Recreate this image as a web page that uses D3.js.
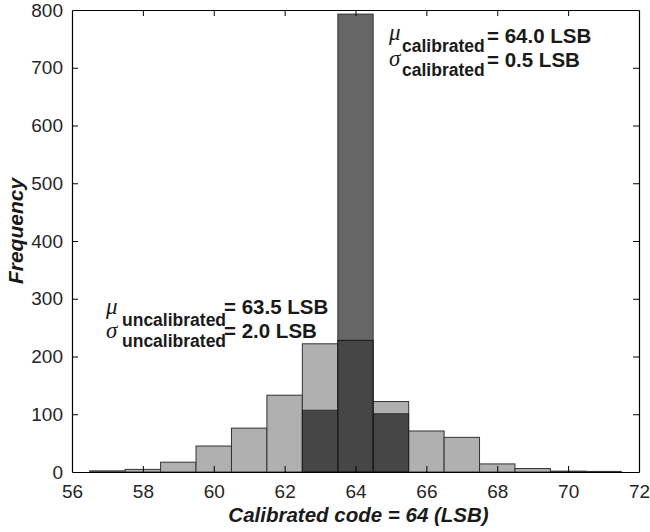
<!DOCTYPE html>
<html>
<head>
<meta charset="utf-8">
<script src="https://cdn.jsdelivr.net/npm/d3@7"></script>
<style>
  html, body { margin: 0; padding: 0; background: #fff; }
  svg { display: block; }
  text { font-family: "Liberation Sans", Arial, Helvetica, sans-serif; }
</style>
</head>
<body>
<svg id="chart" width="650" height="532"></svg>
<script>
// ---- data ----
const uncalBins   = [57, 58, 59, 60, 61, 62, 63, 64, 65, 66, 67, 68, 69, 70, 71];
const uncalCounts = [2, 4.5, 17, 45, 76, 133, 222, 228, 122, 71, 60, 14, 6, 1.5, 1];
const calBins     = [63, 64, 65];
const calCounts   = [107, 793, 101];
const xTicks = [56, 58, 60, 62, 64, 66, 68, 70, 72];
const yTicks = [0, 100, 200, 300, 400, 500, 600, 700, 800];
const xLabel = "Calibrated code = 64 (LSB)";
const yLabel = "Frequency";

const svg = d3.select("#chart");
const L = 72, R = 639, T = 10, B = 472;
const x = d3.scaleLinear().domain([56, 72]).range([L, R]);
const y = d3.scaleLinear().domain([0, 800]).range([B, T]);
const binW = 1;

// uncalibrated bars
svg.append("g").selectAll("rect").data(uncalBins.map((b, i) => ({b, v: uncalCounts[i]})))
  .join("rect")
  .attr("x", d => x(d.b - binW / 2))
  .attr("width", d => x(d.b + binW / 2) - x(d.b - binW / 2))
  .attr("y", d => y(d.v))
  .attr("height", d => y(0) - y(d.v))
  .attr("fill", "#b0b0b0")
  .attr("stroke", "#333")
  .attr("stroke-width", 1);

// calibrated bars (semi-transparent dark)
svg.append("g").selectAll("rect").data(calBins.map((b, i) => ({b, v: calCounts[i]})))
  .join("rect")
  .attr("x", d => x(d.b - binW / 2))
  .attr("width", d => x(d.b + binW / 2) - x(d.b - binW / 2))
  .attr("y", d => y(d.v))
  .attr("height", d => y(0) - y(d.v))
  .attr("fill", "#000")
  .attr("fill-opacity", 0.6)
  .attr("stroke", "#222")
  .attr("stroke-opacity", 0.8)
  .attr("stroke-width", 1);

// axes (box with inward ticks)
const tickLen = 6;
const fmt = d3.format("d");
const gx = svg.append("g").attr("transform", `translate(0,${B})`)
  .call(d3.axisBottom(x).tickValues(xTicks).tickSizeInner(-tickLen).tickSizeOuter(0).tickPadding(12).tickFormat(fmt));
const gxTop = svg.append("g").attr("transform", `translate(0,${T})`)
  .call(d3.axisTop(x).tickValues(xTicks).tickSizeInner(-tickLen).tickSizeOuter(0).tickFormat(""));
const gy = svg.append("g").attr("transform", `translate(${L},0)`)
  .call(d3.axisLeft(y).tickValues(yTicks).tickSizeInner(-tickLen).tickSizeOuter(0).tickPadding(9).tickFormat(fmt));
const gyR = svg.append("g").attr("transform", `translate(${R},0)`)
  .call(d3.axisRight(y).tickValues(yTicks).tickSizeInner(-tickLen).tickSizeOuter(0).tickFormat(""));

[gx, gxTop, gy, gyR].forEach(g => {
  g.select(".domain").attr("stroke", "#000").attr("stroke-width", 1.2);
  g.selectAll(".tick line").attr("stroke", "#000").attr("stroke-width", 1);
  g.selectAll(".tick text").attr("fill", "#262626").style("font-size", "19px")
    .style("font-family", '"Liberation Sans", Arial, sans-serif');
});
gx.selectAll(".tick text").attr("dy", "0.72em");
gy.selectAll(".tick line").filter(d => d === 0 || d === 800).attr("opacity", 0);
gyR.selectAll(".tick line").filter(d => d === 0 || d === 800).attr("opacity", 0);
gx.selectAll(".tick line").filter(d => d === 56 || d === 72).attr("opacity", 0);
gxTop.selectAll(".tick line").filter(d => d === 56 || d === 72).attr("opacity", 0);

// axis labels
svg.append("text")
  .attr("x", (L + R) / 2 + 3).attr("y", 522)
  .attr("text-anchor", "middle")
  .attr("fill", "#1a1a1a")
  .style("font-size", "20.5px").style("font-weight", "bold").style("font-style", "italic")
  .text(xLabel);
svg.append("text")
  .attr("transform", `translate(23,${231}) rotate(-90)`)
  .attr("text-anchor", "middle")
  .attr("fill", "#1a1a1a")
  .style("font-size", "21px").style("font-weight", "bold").style("font-style", "italic")
  .text(yLabel);

// annotations
function stat(symbol, sub, value, xs, ys, subX, subY, valX, valY) {
  svg.append("text").attr("x", xs).attr("y", ys)
    .attr("fill", "#1a1a1a")
    .style("font-family", '"Liberation Serif", "Times New Roman", serif')
    .style("font-style", "italic").style("font-size", "23px")
    .text(symbol);
  svg.append("text").attr("x", subX).attr("y", subY)
    .attr("fill", "#1a1a1a")
    .style("font-weight", "bold").style("font-size", "17.5px")
    .text(sub);
  svg.append("text").attr("x", valX).attr("y", valY)
    .attr("fill", "#1a1a1a")
    .style("font-weight", "bold").style("font-size", "20.5px")
    .text(value);
}
stat("\u03bc", "calibrated", "= 64.0 LSB", 389, 40, 402, 52, 487, 43);
stat("\u03c3", "calibrated", "= 0.5 LSB", 389, 66, 402, 76, 487, 67);
stat("\u03bc", "uncalibrated", "= 63.5 LSB", 106, 314, 122, 326, 224, 314);
stat("\u03c3", "uncalibrated", "= 2.0 LSB", 106, 338, 122, 347, 224, 338);
</script>
</body>
</html>
